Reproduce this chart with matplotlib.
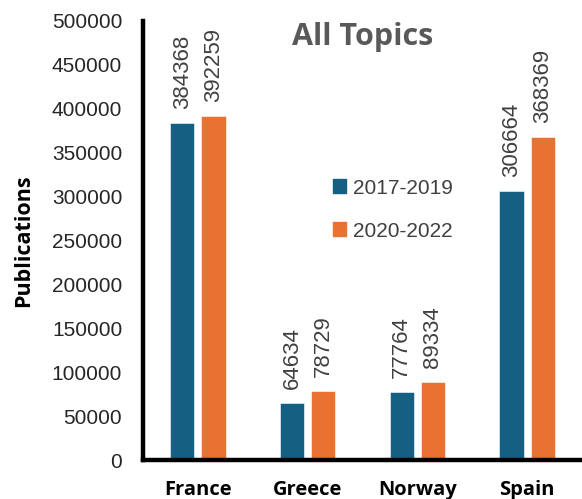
import matplotlib
matplotlib.use("Agg")
import matplotlib.pyplot as plt
from matplotlib.patches import Patch
import numpy as np

countries = ["France", "Greece", "Norway", "Spain"]
series_names = ["2017-2019", "2020-2022"]
vals_2017_2019 = [384368, 64634, 77764, 306664]
vals_2020_2022 = [392259, 78729, 89334, 368369]
yticks = [0, 50000, 100000, 150000, 200000, 250000, 300000, 350000, 400000, 450000, 500000]

c_blue = "#156082"
c_orange = "#E97132"
gray = "#404040"
font = ["Liberation Sans", "DejaVu Sans"]
bfont = ["Open Sans", "DejaVu Sans"]

fig = plt.figure(figsize=(5.82, 4.99), dpi=100)
ax = fig.add_axes([143/582, 39/499, 1 - 143/582, (460-21)/499])

x = np.arange(len(countries))
w = 0.22
off = 0.142
b1 = ax.bar(x - off, vals_2017_2019, w, color=c_blue, edgecolor="white", linewidth=0.4, label=series_names[0])
b2 = ax.bar(x + off, vals_2020_2022, w, color=c_orange, edgecolor="white", linewidth=0.4, label=series_names[1])

for bars, vals in ((b1, vals_2017_2019), (b2, vals_2020_2022)):
    for rect, v in zip(bars, vals):
        ax.annotate(str(v), (rect.get_x() + rect.get_width()/2, v), xytext=(0, 10),
                    textcoords="offset points", rotation=90, ha="center", va="bottom",
                    fontsize=16, color=gray, family=font)

ax.set_xlim(-0.5, 3.5)
ax.set_ylim(0, 500000)
ax.set_yticks(yticks)
ax.set_yticklabels([str(t) for t in yticks], fontsize=15, color="#262626", family=font)
ax.tick_params(axis="y", length=0, pad=15)
ax.set_xticks(x)
ax.set_xticklabels(countries, fontsize=14.5, fontweight="bold", family=bfont)
ax.tick_params(axis="x", length=0, pad=14.5)

for s in ("top", "right"):
    ax.spines[s].set_visible(False)
for s in ("left", "bottom"):
    ax.spines[s].set_linewidth(3.2)
    ax.spines[s].set_color("black")

ax.set_ylabel("Publications", fontsize=15.5, fontweight="bold", family=bfont)
ax.yaxis.set_label_coords(-143/439 + 34/439, 0.5)

fig.text(363/582, 1 - 37/499, "All Topics", ha="center", va="center", fontsize=22,
         fontweight="bold", color="#595959", family=bfont)

handles = [Patch(color=c_blue), Patch(color=c_orange)]
leg = ax.legend(handles, series_names, loc="upper left", bbox_to_anchor=((314-143)/439, (460-160)/439),
                frameon=False, handlelength=0.65, handleheight=0.65,
                handletextpad=0.3, labelspacing=1.15, prop={"family": font, "size": 15})
for t in leg.get_texts():
    t.set_color(gray)

fig.savefig("out.png", dpi=100)
